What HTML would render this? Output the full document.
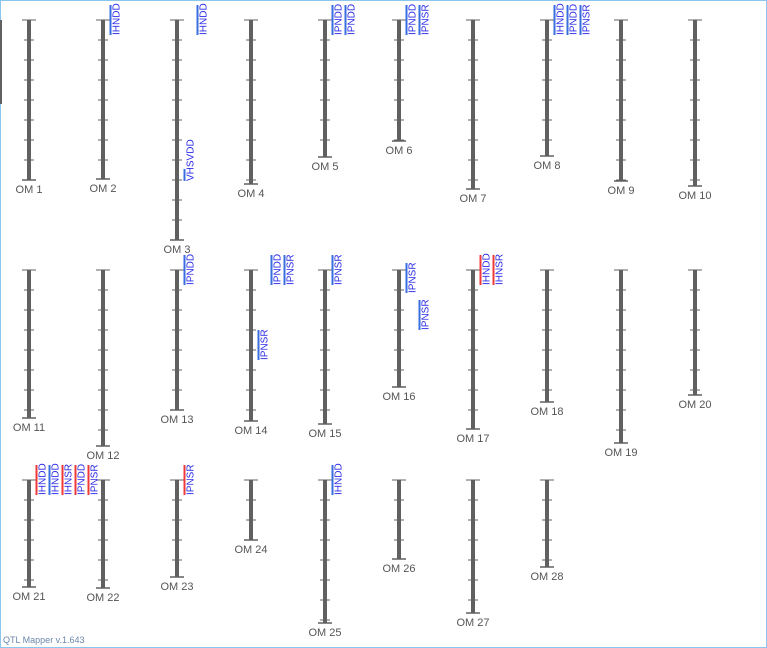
<!DOCTYPE html>
<html><head><meta charset="utf-8"><style>
html,body{margin:0;padding:0;background:#fff}
svg{display:block}
</style></head><body>
<svg id="c" width="767" height="648" viewBox="0 0 767 648" xmlns="http://www.w3.org/2000/svg" font-family="Liberation Sans, sans-serif">
<rect x="0.5" y="0.5" width="766" height="647" fill="#fff" stroke="#8cc6ee"/>
<rect x="0" y="20" width="2" height="84" fill="#606060"/>
<text x="3" y="643" font-size="9" fill="#6a88aa">QTL Mapper v.1.643</text>
<g id="g"></g>
</svg>
<script>
const chrNames = ["OM 1","OM 2","OM 3","OM 4","OM 5","OM 6","OM 7","OM 8","OM 9","OM 10","OM 11","OM 12","OM 13","OM 14","OM 15","OM 16","OM 17","OM 18","OM 19","OM 20","OM 21","OM 22","OM 23","OM 24","OM 25","OM 26","OM 27","OM 28"];
const chrLengths = [80,79.5,110,82,68.5,60.5,84.5,68,80.5,83,74,88,70,75.5,77,58.5,79.5,66,86.5,62.5,53.5,54,48.5,30,71.5,39.5,66.5,43.5];
const qtlChr = [1,2,2,4,4,5,5,7,7,7,12,13,13,13,14,15,15,16,16,20,20,20,20,20,22,24];
const qtlTrait = ["IHNDD","VHSVDD","IHNDD","IPNDD","IPNDD","IPNDD","IPNSR","IHNDD","IPNDD","IPNSR","IPNDD","IPNSR","IPNDD","IPNSR","IPNSR","IPNSR","IPNSR","IHNDD","IHNSR","IHNDD","IHNDD","IHNSR","IPNDD","IPNSR","IPNSR","IHNDD"];
const qtlStart = [-7.5,74.5,-7.5,-7.5,-7.5,-7.5,-7.5,-7.5,-7.5,-7.5,-7.5,30,-7.5,-7.5,-7.5,-3.5,15,-7.5,-7.5,-7.5,-7.5,-7.5,-7.5,-7.5,-7.5,-7.5];
const qtlEnd = [7.5,80.5,7.5,7.5,7.5,7.5,7.5,7.5,7.5,7.5,7.5,45,7.5,7.5,7.5,11.5,30,7.5,7.5,7.5,7.5,7.5,7.5,7.5,7.5,7.5];
const qtlCol = [0,0,1,0,1,0,1,0,1,2,0,0,1,2,0,0,1,0,1,0,1,2,3,4,0,0];
const qtlSig = ["b","b","b","b","b","b","b","b","b","b","b","b","b","b","b","b","b","r","r","r","b","r","r","r","r","b"];

const rowTops=[20,270,480], pxPerUnit=2, tickStep=10;
const xOf=i=>29+74*(i%10);
const topOf=i=>rowTops[Math.floor(i/10)];
const yOf=(i,u)=>topOf(i)+u*pxPerUnit;
const NS="http://www.w3.org/2000/svg", g=document.getElementById('g');
function mk(tag,a){const e=document.createElementNS(NS,tag);for(const k in a)e.setAttribute(k,a[k]);g.appendChild(e);return e;}

chrNames.forEach((n,i)=>{
  const x=xOf(i), y0=yOf(i,0), y1=yOf(i,chrLengths[i]);
  const bar=mk('rect',{x:x-2,y:y0,width:4,height:y1-y0,fill:'#606060'});
  
  
  for(let u=0;u<=chrLengths[i];u+=tickStep){
    const half=u===0?7:5;
    const t=mk('line',{x1:x-half,x2:x+half,y1:yOf(i,u),y2:yOf(i,u),stroke:'#606060','stroke-width':1});
    
    
  }
  const e=mk('line',{x1:x-7,x2:x+7,y1:y1,y2:y1,stroke:'#606060','stroke-width':1.5});
  
  
  const lb=mk('text',{x:x,y:y1+13,'font-size':11,fill:'#555','text-anchor':'middle'});
  lb.textContent=n;
  
  
});

qtlChr.forEach((c,k)=>{
  const lx=xOf(c)+7.5+13*qtlCol[k];
  const ya=yOf(c,qtlStart[k]), yb=yOf(c,qtlEnd[k]);
  const ln=mk('rect',{x:lx-1,y:ya,width:2,height:yb-ya,fill:qtlSig[k]==='r'?'#f03838':'#3a6ee0'});
  
  
  const tx=mk('text',{x:lx+9,y:yb,'font-size':10,fill:'#2a2ae8',transform:`rotate(-90 ${lx+9} ${yb})`});
  tx.textContent=qtlTrait[k];
  
  
});
</script>
</body></html>
